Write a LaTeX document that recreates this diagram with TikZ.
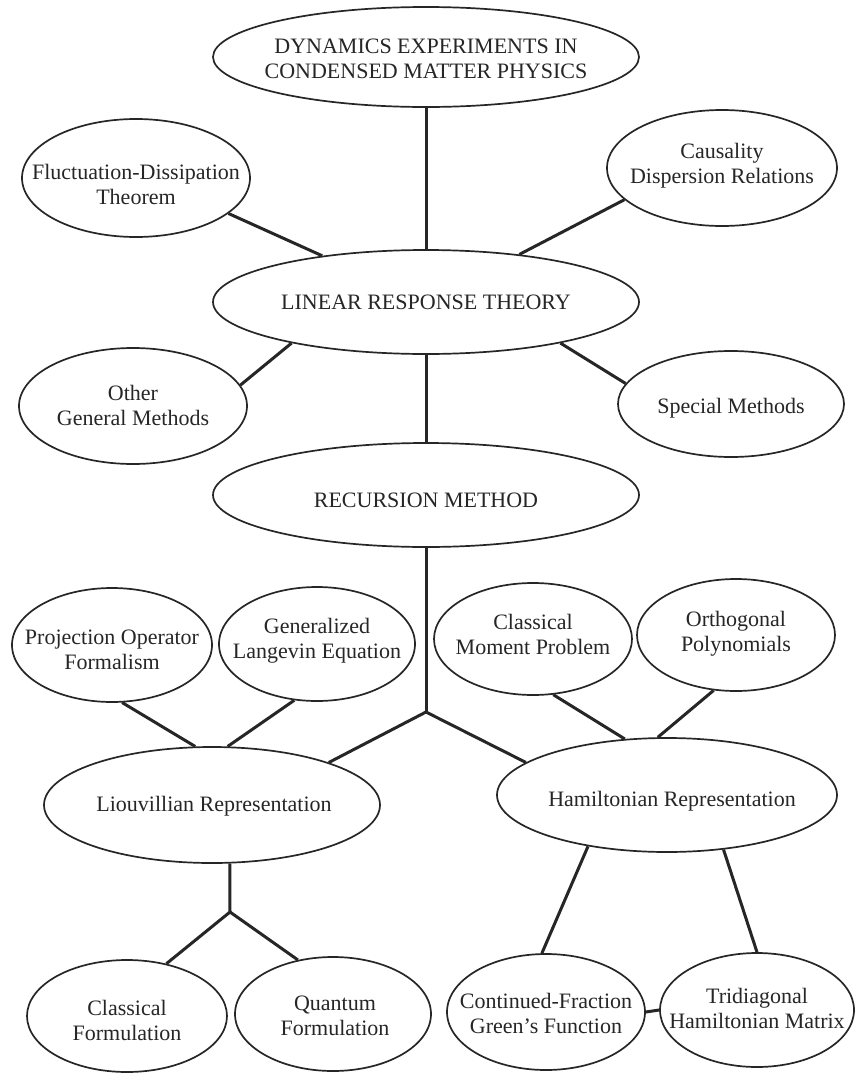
\documentclass[tikz,border=0pt]{standalone}
\usepackage{fontspec}
\setmainfont{Liberation Serif}
\usetikzlibrary{shapes.geometric}
\definecolor{ink}{RGB}{38,38,38}
\begin{document}
\begin{tikzpicture}[x=1pt,y=-1pt,
  ell/.style n args={2}{ellipse, draw=ink, line width=1.7pt, inner sep=0pt, minimum width=#1pt, minimum height=#2pt},
  lbl/.style={align=center, font=\fontsize{22}{25}\selectfont, text=ink, inner sep=0pt},
  link/.style={draw=ink, line width=3pt}]
\useasboundingbox (0,0) rectangle (857,1074);
\fill[white] (0,0) rectangle (857,1074);

% top row
\node[ell={426}{100}] (top) at (426,57) {};
\node[lbl] (topt) at (426,59) {DYNAMICS EXPERIMENTS IN\\CONDENSED MATTER PHYSICS};
\node[ell={228}{118}] (fluct) at (136,178) {};
\node[lbl] (fluctt) at (136,184) {Fluctuation-Dissipation\\Theorem};
\node[ell={230}{116}] (caus) at (722,168) {};
\node[lbl] (caust) at (722,166) {Causality\\Dispersion Relations};

\node[ell={426}{104}] (lrt) at (426,302) {};
\node[lbl] (lrtt) at (426,302) {LINEAR RESPONSE THEORY};
\node[ell={228}{116}] (other) at (133,406) {};
\node[lbl] (othert) at (133,405) {Other\\General Methods};
\node[ell={226}{106}] (special) at (731,404) {};
\node[lbl] (specialt) at (731,408) {Special Methods};

\node[ell={426}{104}] (rec) at (426,495) {};
\node[lbl] (rect) at (426,500) {RECURSION METHOD};

% lower part
\node[ell={200}{114}] (proj) at (112,645) {};
\node[lbl] (projt) at (112,650) {Projection Operator\\Formalism};
\node[ell={196}{114}] (gle) at (317,644) {};
\node[lbl] (glet) at (317,641) {Generalized\\Langevin Equation};
\node[ell={198}{112}] (cmp) at (533,639) {};
\node[lbl] (cmpt) at (533,634) {Classical\\Moment Problem};
\node[ell={198}{112}] (orth) at (736,635) {};
\node[lbl] (ortht) at (736,634) {Orthogonal\\Polynomials};

\node[ell={336}{116}] (liou) at (212,805) {};
\node[lbl] (liout) at (214,806) {Liouvillian Representation};
\node[ell={340}{114}] (ham) at (667,795) {};
\node[lbl] (hamt) at (672,801) {Hamiltonian Representation};

\node[ell={200}{112}] (classf) at (127,1016) {};
\node[lbl] (classft) at (127,1020) {Classical\\Formulation};
\node[ell={196}{114}] (quantf) at (333,1014) {};
\node[lbl] (quantft) at (335,1016) {Quantum\\Formulation};
\node[ell={198}{116}] (cfgf) at (546,1012) {};
\node[lbl] (cfgft) at (546,1013) {Continued-Fraction\\Green's Function};
\node[ell={194}{114}] (tridiag) at (757,1010) {};
\node[lbl] (tridiagt) at (757,1008) {Tridiagonal\\Hamiltonian Matrix};

\coordinate (J1) at (426,712);
\coordinate (J2) at (230,912);

% connectors
\draw[link] (top.south) -- (lrt.north);
\draw[link] (fluct.-21) -- (lrt.156);
\draw[link] (caus.-162) -- (lrt.27);
\draw[link] (lrt.-163) -- (other.11);
\draw[link] (lrt.-17) -- (special.169);
\draw[link] (lrt.south) -- (rec.north);
\draw[link] (rec.south) -- (J1);
\draw[link] (J1) -- (liou.20);
\draw[link] (J1) -- (ham.167);
\draw[link] (proj.-80) -- (liou.106);
\draw[link] (gle.-112) -- (liou.75);
\draw[link] (cmp.-70) -- (ham.127);
\draw[link] (orth.-112) -- (ham.99);
\draw[link] (liou.-73) -- (J2);
\draw[link] (J2) -- (classf.53);
\draw[link] (J2) -- (quantf.123);
\draw[link] (ham.-147) -- (cfgf.94);
\draw[link] (ham.-44) -- (tridiag.90);
\draw[link] (cfgf.east) -- (tridiag.west);
\end{tikzpicture}
\end{document}
